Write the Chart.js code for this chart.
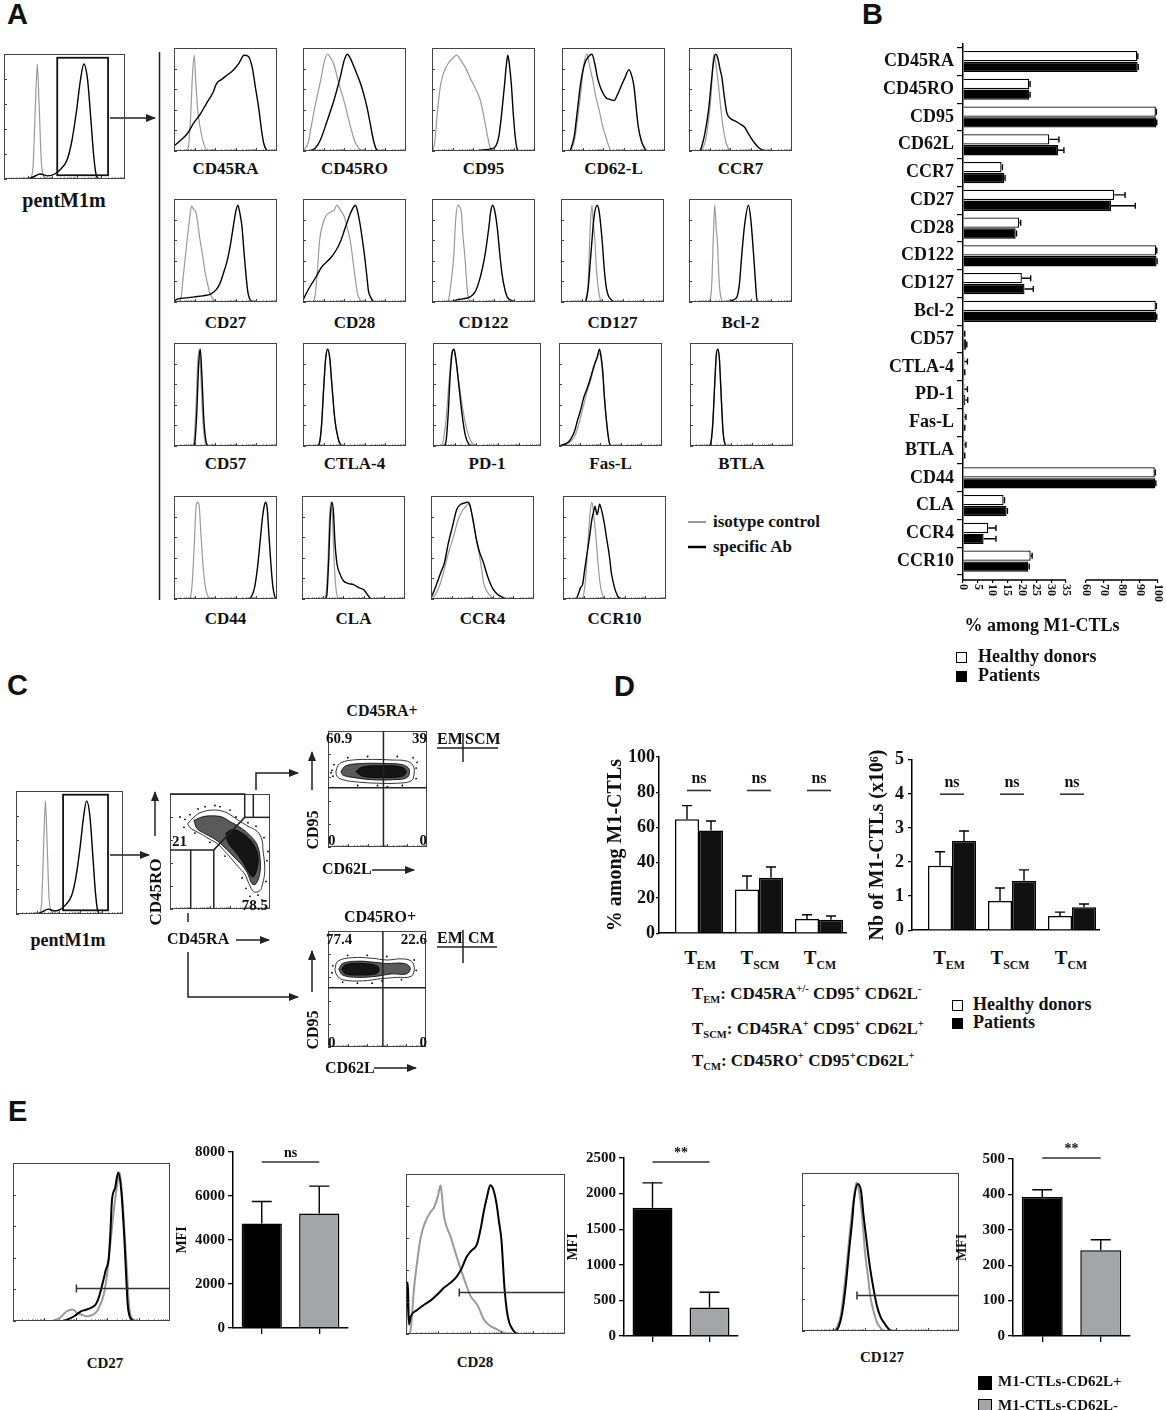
<!DOCTYPE html>
<html>
<head>
<meta charset="utf-8">
<script src="https://cdn.jsdelivr.net/npm/chart.js@4.4.1/dist/chart.umd.min.js"></script>
<style>
  html, body { margin: 0; padding: 0; background: #fff; }
  #fig { position: relative; width: 1166px; height: 1410px; overflow: hidden; background: #fff;
         font-family: "Liberation Serif", "Times New Roman", serif; font-weight: bold; color: #111; }
  #fig canvas { position: absolute; }
  #ov { position: absolute; left: 0; top: 0; }
  .t { position: absolute; white-space: nowrap; line-height: 1; }
  .letter { font-family: "Liberation Sans", Arial, sans-serif; }
  sub, sup { font-size: 0.62em; line-height: 0; }
  .sq { position: absolute; border: 1.5px solid #000; box-sizing: border-box; }
</style>
</head>
<body>
<div id="fig">
<svg id="ov" width="1166" height="1410">
  <defs>
    <marker id="ah" markerWidth="10" markerHeight="8" refX="9" refY="4" orient="auto" markerUnits="userSpaceOnUse">
      <path d="M0,0 L10,4 L0,8 z" fill="#222"/>
    </marker>
  </defs>
  <g stroke="#222" stroke-width="1.5" fill="none">
    <!-- A -->
    <line x1="110" y1="118" x2="155" y2="118" marker-end="url(#ah)"/>
    <line x1="159.5" y1="52" x2="159.5" y2="600"/>
    <line x1="688" y1="522" x2="706" y2="522" stroke="#9a9a9a" stroke-width="2"/>
    <line x1="688" y1="547" x2="706" y2="547" stroke="#000" stroke-width="2.5"/>
    <!-- C -->
    <line x1="110" y1="855" x2="149" y2="855" marker-end="url(#ah)"/>
    <line x1="155" y1="836" x2="155" y2="792" marker-end="url(#ah)"/>
    <line x1="236" y1="940" x2="269" y2="940" marker-end="url(#ah)"/>
    <polyline points="256,790 256,773 298,773" marker-end="url(#ah)"/>
    <line x1="188" y1="913" x2="188" y2="922"/>
    <polyline points="188,952 188,997 298,997" marker-end="url(#ah)"/>
    <line x1="312" y1="790" x2="312" y2="752" marker-end="url(#ah)"/>
    <line x1="312" y1="992" x2="312" y2="951" marker-end="url(#ah)"/>
    <line x1="372" y1="870" x2="414" y2="870" marker-end="url(#ah)"/>
    <line x1="374" y1="1068" x2="416" y2="1068" marker-end="url(#ah)"/>
    <line x1="437" y1="748" x2="498" y2="748"/>
    <line x1="463" y1="733" x2="463" y2="762"/>
    <line x1="437" y1="947" x2="497" y2="947"/>
    <line x1="463" y1="930" x2="463" y2="963"/>
  </g>
</svg>
</div>
<script>
const pentIso = [[18,0],[22,1],[24,10],[26,60],[27.5,92],[29,60],[31,12],[34,1],[38,0]];
const pentAb = [[20,0],[25,2],[30,4],[36,2.5],[42,4],[47,8],[52,15],[56,30],[60,55],[63,78],[66,92],[69,80],[72,45],[74,20],[76,4],[78,0]];

const cd45raIso = [[12,0],[14,4],[16,30],[18,75],[19.7,93],[21,70],[23,40],[25,25],[28,10],[31,2],[33,0]];
const cd45raAb = [[0,5],[6,10],[13,17],[19,27],[25,35],[32,47],[38,57],[41,65],[47,70],[52,74],[57,78],[63,85],[68,93],[72,92],[76,81],[79,62],[82.5,40],[85,20],[87,8],[90,1],[93,0]];
const cd45roIso = [[1,1],[5,8],[8,24],[12,45],[17,68],[21,88],[24,94],[27,90],[30,84],[35,65],[40,48],[46,24],[50,10],[54,3],[57,0]];
const cd45roAb = [[6,0],[12,3],[17,11],[23,28],[30,49],[36,71],[40,88],[43,94],[46,90],[49,83],[53,73],[56,65],[59,55],[62,43],[65,28],[67,17],[69,8],[71,2],[74,0]];
const cd95Iso = [[1,0],[3,12],[5,35],[8,62],[11,75],[15,84],[20,90],[24,93],[28,88],[33,80],[37,71],[42,61],[47,49],[51,30],[54,14],[56,5],[58,0]];
const cd95Ab = [[40,0],[50,1],[57,2],[62,5],[65,15],[68,40],[70.5,65],[72,82],[73.6,93],[75,85],[77,65],[79,35],[81,12],[83,1],[85,0]];
const cd62lIso = [[8,0],[12,10],[15,30],[18.5,59],[21,82],[24,94],[27,82],[30,68],[33,52],[36,40],[40,22],[42.5,14],[45,6],[47,1],[49,0]];
const cd62lAb = [[8,0],[12,15],[15,40],[18,65],[21.7,84],[26,92],[29,94],[32,84],[34.5,71],[38,60],[42.5,52],[47,50],[50.5,49],[54,55],[57,62],[61,71],[65,79],[68,72],[70,62],[72,42],[74,24],[77,10],[79,5],[82,0]];
const ccr7Iso = [[12,0],[16,10],[19,30],[21,49],[23,80],[24,94],[26,85],[28.5,65],[31,40],[33,24],[36,8],[38,3],[41,0]];
const ccr7Ab = [[11,0],[15,15],[19,40],[22,70],[24,88],[26,94],[28,90],[30,80],[32,71],[34,55],[36.5,38],[38,34],[41,31],[45,29],[50,26],[54,23],[57,18],[60,13],[63.5,8],[67,4],[70,1.6],[75,0]];

const cd27Iso = [[4,0],[7,5],[9,25],[12,53],[15,80],[17,93],[19,90],[21,88],[23,77],[25,62],[28,44],[30,30],[32.5,18],[35,8],[39,2],[42,0]];
const cd27Ab = [[0,1],[4,3],[12,4],[20,5],[28,6],[36,8],[41,12],[45,19],[48,28],[51.6,40],[55,57],[58,76],[60,88],[62,94],[64,86],[66,73],[68,48],[70.7,18],[72,8],[74,2],[77,0]];
const cd28Iso = [[10,0],[12,8],[14,30],[16,59],[19,75],[22,83],[26,87],[30,89],[33,94],[37,88],[40,83],[43,72],[46,59],[48.5,40],[51,21],[53,8],[55.5,2],[57,0]];
const cd28Ab = [[0,2],[3,8],[8,17],[13,25],[17.5,33],[22,38],[27,43],[32,50],[36.5,59],[41,72],[46,86],[49,92],[51,94],[53,88],[55.5,75],[58,58],[60,43],[62,25],[63.5,11],[66,4],[68,1],[71,0]];
const cd122Iso = [[14,0],[16,2],[18,15],[21,43],[23,80],[25,94],[27,92],[28.5,87],[30,65],[32,43],[34,15],[35,5],[38,0]];
const cd122Ab = [[20,0],[24,2],[30,3],[37,5],[42,10],[46,21],[49,33],[52,49],[55.5,75],[57,88],[59,94],[61,88],[63.5,71],[66,45],[68,27],[71,11],[73,5],[76,2],[81,0]];
const cd127Iso = [[24,0],[26,10],[27.5,50],[28.5,75],[30,94],[31.5,75],[33,59],[34.5,30],[36.5,11],[38,3],[40,0]];
const cd127Ab = [[24,0],[26.5,15],[28.5,40],[30,59],[32,82],[35,94],[37,88],[40,59],[42,32],[44,14],[46,6],[49,2],[52,0]];
const bcl2Iso = [[20,0],[22,15],[23.5,59],[25,94],[26.5,70],[27.6,59],[29,25],[30,11],[32,0]];
const bcl2Ab = [[38,0],[43,2],[46.6,5],[49,18],[51,43],[54,75],[57.8,94],[60,80],[62.5,49],[64.5,20],[66,2],[69,0]];

const cd57Iso = [[17,0],[19,2],[21,30],[23,80],[24.5,94],[26,70],[28,25],[30,5],[32,0]];
const cd57Ab = [[18,0],[20,2],[22,30],[24,80],[25.5,94],[27,70],[29,25],[31,5],[33,0]];
const ctla4Iso = [[14,0],[16,3],[18,20],[20,55],[22,85],[24,94],[26,85],[28,60],[31,25],[34,8],[36,2],[38,0]];
const ctla4Ab = [[14,0],[16,3],[18,20],[20,55],[22,85],[24,94],[26,85],[28,60],[31,25],[34,8],[36,2],[38,0]];
const pd1Iso = [[7,0],[9,3],[12,25],[15,65],[17,88],[19,94],[21,85],[24,62],[27,40],[30,22],[33,10],[36,3],[39,0]];
const pd1Ab = [[10,0],[12,4],[14,30],[16,70],[18,92],[19.5,94],[21,86],[24,58],[27,30],[30,10],[33,2],[35,0]];
const faslIso = [[3,0],[8,2],[12,5],[15,9],[18,17],[21,28],[24,40],[27,52],[30.6,63],[34,76],[37,86],[39.5,90],[41,87],[42.6,72],[44,50],[46,26],[48,8],[50,1],[52,0]];
const faslAb = [[0,0],[3,1],[8,3],[11.6,7],[15,14],[18,25],[21,35],[24,47],[27,55],[30.6,66],[34,78],[37,86],[39.4,94],[41,85],[42.6,70],[44,48],[46,25],[48,8],[49.5,1],[51,0]];
const btlaIso = [[18,0],[20,2],[22,20],[24,60],[25.5,88],[27,94],[28.5,85],[30,55],[32,15],[34,2],[36,0]];
const btlaAb = [[18,0],[20,2],[22,20],[24,60],[25.5,88],[27,94],[28.5,85],[30,55],[32,15],[34,2],[36,0]];

const cd44Iso = [[14,0],[16,2],[18,20],[20,60],[21.5,90],[23,94],[24.5,90],[26,65],[28,35],[30,15],[32,5],[35,0]];
const cd44Ab = [[72,0],[75,2],[78,10],[81,30],[84,60],[86,80],[88,92],[89,94],[90.5,88],[92,65],[94,35],[96,12],[98,2],[99,0]];
const claIso = [[21,0],[23,3],[25,30],[26.5,75],[28,94],[29.5,80],[31,40],[33,10],[35,1],[37,0]];
const claAb = [[22,0],[24,3],[26,40],[27.5,80],[29,94],[30.5,85],[32,55],[34,34],[37,24],[40,18],[45,15],[50,14],[55,11],[60,9],[63,5],[66,1],[68,0]];
const ccr4Iso = [[1,0],[4,4],[8,12],[13,29],[17,45],[22,61],[26,76],[30,85],[33,89],[36,92],[38,90],[41,74],[44,58],[46,48],[49,30],[51,16],[54,8],[56,5],[60,1],[63,0]];
const ccr4Ab = [[0,1],[3,8],[6,16],[10,27],[13,35],[17,55],[21,71],[25,87],[29,92],[32,93],[35,94],[37,93],[40,81],[42,70],[44,58],[47,46],[51,35],[54,25],[56,19],[60,10],[64,5],[67,3],[73,0]];
const ccr10Iso = [[18,0],[20,4],[22,20],[24,50],[26,80],[28,94],[30,80],[32,60],[34,35],[36,15],[38,5],[40,1],[42,0]];
const ccr10Ab = [[13,0],[15,5],[17,11],[19,14],[21,28],[23,42],[26,62],[28,77],[30,86],[31,90],[33,82],[34,85],[35.5,92],[37,88],[40,74],[42.5,58],[45,42],[47,25],[50,11],[53,3],[55,1],[58,0]];

const aMarkers = ['CD45RA','CD45RO','CD95','CD62-L','CCR7','CD27','CD28','CD122','CD127','Bcl-2',
                  'CD57','CTLA-4','PD-1','Fas-L','BTLA','CD44','CLA','CCR4','CCR10'];
const aIso = [cd45raIso, cd45roIso, cd95Iso, cd62lIso, ccr7Iso, cd27Iso, cd28Iso, cd122Iso, cd127Iso, bcl2Iso,
              cd57Iso, ctla4Iso, pd1Iso, faslIso, btlaIso, cd44Iso, claIso, ccr4Iso, ccr10Iso];
const aAb = [cd45raAb, cd45roAb, cd95Ab, cd62lAb, ccr7Ab, cd27Ab, cd28Ab, cd122Ab, cd127Ab, bcl2Ab,
             cd57Ab, ctla4Ab, pd1Ab, faslAb, btlaAb, cd44Ab, claAb, ccr4Ab, ccr10Ab];
const pentGate = [44, 86, 3, 97];

// ---------- B ----------
const bCats = ['CD45RA','CD45RO','CD95','CD62L','CCR7','CD27','CD28','CD122','CD127','Bcl-2',
               'CD57','CTLA-4','PD-1','Fas-L','BTLA','CD44','CLA','CCR4','CCR10'];
const bHealthy = [88.5, 22.5, 98.8, 29.3, 13.1, 75.7, 19.1, 99, 20, 98.8, 0.3, 0.5, 0.5, 0.5, 0.5, 98.2, 13.8, 8.6, 23];
const bHealthyErr = [0.3, 0.3, 0.3, 3.3, 0.3, 6, 0.5, 0.3, 3, 0.3, 0.3, 1, 1, 0.5, 0.5, 0.3, 0.3, 2.6, 0.5];
const bPatients = [88.7, 22.5, 99, 32.3, 14, 73.9, 17.9, 99.2, 20.9, 99, 1, 0.3, 0.8, 0.3, 0.3, 98.5, 14.8, 7, 22.2];
const bPatientsErr = [0.3, 0.3, 0.3, 2, 0.3, 13.5, 0.3, 0.3, 3, 0.3, 0.3, 0.3, 0.8, 0.3, 0.3, 0.3, 0.3, 4.2, 0.3];
const bTicks = [0, 5, 10, 15, 20, 25, 30, 35, 60, 70, 80, 90, 100];

// ---------- C ----------
const cOuter = [[17.6,74],[24,80],[31,84],[42,86],[53,85],[62,81],[68.5,77],[78,72],[87,67.6],[92,60],[93,51],[94.5,40],[94.5,30],[92,20],[90,16],[84,15],[79,22],[75,30],[68,37],[62,43],[55,50],[47,57],[39,61],[31.5,65],[21,70],[17.6,74]];
const cMid = [[24,77],[32,80],[41,81],[52,80],[60,76],[70,71],[80,64],[87,56],[90,45],[90,32],[86,22],[82,22],[77,32],[70,40],[62,47],[54,54],[46,60],[36,65],[27,70],[24,77]];
const cCore = [[56,66],[62,69],[70,67],[78,62],[85,54],[88,45],[87,35],[83,28],[78,33],[72,42],[65,50],[58,58],[56,66]];
const cDots = [[15,78],[20,82],[28,87],[35,89],[60,86],[78,75],[94,62],[97,42],[96,24],[88,12],[80,11],[72,27],[55,46],[40,58],[25,66],[14,71],[50,89],[86,72],[98,50],[76,18],[10,80],[45,90],[66,80],[92,8]];
const raOuter = [[8,65],[10,70],[14,73],[25,75],[45,75.5],[65,75],[80,74],[86,70],[87,63],[84,57],[70,55],[50,55],[30,56],[15,58],[9,61],[8,65]];
const raMid = [[13,65],[18,70],[35,72],[55,72],[75,71],[82,67],[80,60],[65,58],[45,58],[25,60],[15,62],[13,65]];
const raCore = [[28,65],[35,69],[55,70],[74,69],[79,65],[75,61],[55,60],[35,61],[28,65]];
const raDots = [[4,66],[6,71],[5,61],[89,68],[90,73],[89,59],[60,52],[40,78],[20,77],[70,78],[86,77],[50,53],[3,64],[30,53],[75,53]];
const roOuter = [[7,67],[10,74],[25,77],[45,76.5],[60,75],[75,76],[85,74],[88,68],[85,61],[70,60],[55,59],[35,57],[15,58],[9,62],[7,67]];
const roMid = [[11,67],[15,72],[30,74],[48,73],[60,72],[78,72],[84,68],[80,63],[65,63],[50,61],[30,60],[15,62],[11,67]];
const roCore = [[14,67],[18,71],[35,72],[50,70],[52,66],[48,63],[30,62],[18,63],[14,67]];
const roDots = [[5,70],[4,64],[20,79],[40,79],[60,78],[88,75],[90,66],[30,55],[15,56],[55,57],[75,58],[45,55]];
const quadCut = [56, 51];

// ---------- D ----------
const dCats = ['EM', 'SCM', 'CM'];
const dPctHealthy = [64.7, 24.8, 8.1];
const dPctHealthyErr = [7.7, 7.7, 2.4];
const dPctPatients = [58.3, 31.4, 7.7];
const dPctPatientsErr = [5.4, 6.2, 2.1];
const dNbHealthy = [1.89, 0.86, 0.42];
const dNbHealthyErr = [0.41, 0.38, 0.11];
const dNbPatients = [2.62, 1.45, 0.675];
const dNbPatientsErr = [0.29, 0.32, 0.095];
const dSig = ['ns', 'ns', 'ns'];

// ---------- E ----------
const eGroups = ['M1-CTLs-CD62L+', 'M1-CTLs-CD62L-'];
const eCd27Mfi = [4750, 5200];
const eCd27Err = [1000, 1250];
const eCd28Mfi = [1800, 400];
const eCd28Err = [350, 215];
const eCd127Mfi = [393, 242];
const eCd127Err = [20, 30];
const eCd27Plus = [[32,0],[36,1.5],[39,3],[43,6],[46,7],[49,8],[51,9],[53,11],[55,16],[57.6,26],[59,32],[61,40],[62,55],[63,76],[65,84],[67,94],[69,82],[71,51],[72,30],[73,11],[74,4],[75.5,1],[77,0]];
const eCd27Minus = [[25,0],[30,2],[34,6],[38,7.3],[41,5],[44,4],[47,3],[51,4],[54,7],[57.6,16],[60,30],[62,49],[64,68],[66,84],[68,94],[70,72],[72.3,36],[74,9],[76.5,1],[79,0]];
const eCd28Plus = [[0,0],[0.6,32],[1.2,32],[1.8,6],[3,11],[7,15],[11,18],[15.6,21],[20,25],[24,29],[28,32],[32,36],[35,41],[38,48],[41,52],[44.6,56],[47,66],[49,77],[51,86],[53,93],[55,90],[57,81],[58.5,70],[60,59],[62,28],[63.5,14],[65,7],[67,3],[68.5,1],[71.6,0]];
const eCd28Minus = [[2,0],[3,3],[4,15],[5,28],[7,45],[9,59],[11,67],[13.5,73],[16,77],[17.6,79],[20,86],[21.8,93],[23,82],[24,73],[28,61],[32,48],[36,36],[40.5,24],[45,18],[49,9],[53,5],[57,3],[61,1],[67,0]];
const eCd127Plus = [[21.5,0],[23.5,3],[25.7,12],[28,30],[30,51],[32,70],[33,82],[35.6,93],[37.7,88],[39,75],[40.4,63],[42,50],[43.5,39],[45.5,27],[47.7,16],[50,9],[52,5.6],[55,1.5],[57,0]];
const eCd127Minus = [[20.5,0],[22.5,3],[24.7,10],[27,28],[29,47],[31,68],[32.5,80],[34.7,94],[36,90],[37,84],[39,65],[40,51],[42,35],[43.5,22],[46,11],[47.7,5.6],[50,2],[52,0]];
const eGates = [[40.4, 21], [33.5, 26], [35, 23]];

// ================= drawing =================
const fig = document.getElementById('fig');
const SERIF = '"Liberation Serif", "Times New Roman", serif';
Chart.defaults.font.family = SERIF;
Chart.defaults.font.weight = 'bold';
Chart.defaults.color = '#111';
Chart.defaults.animation = false;
Chart.defaults.responsive = false;
Chart.defaults.devicePixelRatio = 1;
Chart.defaults.events = [];
Chart.defaults.plugins.legend.display = false;
Chart.defaults.plugins.tooltip.enabled = false;

function addCanvas(left, top, w, h) {
  const cv = document.createElement('canvas');
  cv.width = w; cv.height = h;
  cv.style.left = left + 'px'; cv.style.top = top + 'px';
  cv.style.width = w + 'px'; cv.style.height = h + 'px';
  fig.appendChild(cv);
  return cv;
}

function txt(html, x, y, size, align, cls) {
  const d = document.createElement('div');
  d.className = 't' + (cls ? ' ' + cls : '');
  d.innerHTML = html;
  d.style.fontSize = size + 'px';
  d.style.left = x + 'px';
  d.style.top = (y - size / 2) + 'px';
  if (align === 'center') d.style.transform = 'translateX(-50%)';
  if (align === 'right') d.style.transform = 'translateX(-100%)';
  if (align === 'rot') { d.style.top = y + 'px'; d.style.transform = 'translate(-50%,-50%) rotate(-90deg)'; }
  fig.appendChild(d);
}

function square(x, y, size, color) {
  const d = document.createElement('div');
  d.className = 'sq';
  d.style.cssText += `left:${x}px;top:${y - size / 2}px;width:${size}px;height:${size}px;background:${color}`;
  fig.appendChild(d);
}

// frame + log ticks + optional gate for a flow plot
function boxFrame(gate) {
  return {
    id: 'boxFrame',
    afterDraw(chart) {
      const { ctx, chartArea: a, scales: { x, y } } = chart;
      ctx.save();
      ctx.strokeStyle = '#444';
      ctx.lineWidth = 1;
      ctx.strokeRect(a.left + 0.5, a.top + 0.5, a.width - 1, a.height - 1);
      ctx.beginPath();
      for (let d = 0; d < 5; d++) {
        for (let k = 1; k < 10; k++) {
          const px = Math.round(x.getPixelForValue(d * 20 + Math.log10(k) * 20)) + 0.5;
          ctx.moveTo(px, a.bottom);
          ctx.lineTo(px, a.bottom - (k === 1 ? 3 : 1.5));
        }
      }
      for (let v = 0; v <= 100; v += 20) {
        const py = Math.round(y.getPixelForValue(v)) + 0.5;
        ctx.moveTo(a.left, py); ctx.lineTo(a.left + 3, py);
      }
      ctx.stroke();
      if (gate && gate.rect) {
        const [x0, x1, y0, y1] = gate.rect;
        ctx.strokeStyle = '#111'; ctx.lineWidth = 1.8;
        const l = x.getPixelForValue(x0), r = x.getPixelForValue(x1);
        const t = y.getPixelForValue(y1), b = y.getPixelForValue(y0);
        ctx.strokeRect(l, t, r - l, b - t);
      }
      if (gate && gate.bar) {
        const [x0, yv] = gate.bar;
        const l = x.getPixelForValue(x0), py = Math.round(y.getPixelForValue(yv)) + 0.5;
        ctx.strokeStyle = '#333'; ctx.lineWidth = 1.5;
        ctx.beginPath();
        ctx.moveTo(l, py); ctx.lineTo(a.right, py);
        ctx.moveTo(l, py - 4); ctx.lineTo(l, py + 4);
        ctx.stroke();
      }
      if (gate && gate.lines) {
        ctx.strokeStyle = '#222'; ctx.lineWidth = 1.5;
        gate.lines.forEach(pl => {
          ctx.beginPath();
          pl.forEach((p, i) => {
            const px = x.getPixelForValue(p[0]), py = y.getPixelForValue(p[1]);
            if (i === 0) ctx.moveTo(px, py); else ctx.lineTo(px, py);
          });
          ctx.stroke();
        });
      }
      ctx.restore();
    }
  };
}

function flowHist(left, top, w, h, ab, iso, gate, widths) {
  const wd = widths || [1.4, 1.2];
  new Chart(addCanvas(left, top, w, h), {
    type: 'line',
    data: {
      datasets: [
        { data: ab, borderColor: '#000', borderWidth: wd[0] },
        { data: iso, borderColor: '#9a9a9a', borderWidth: wd[1] }
      ]
    },
    options: {
      layout: { padding: 1 },
      elements: { point: { radius: 0 }, line: { cubicInterpolationMode: 'monotone', fill: false } },
      scales: {
        x: { type: 'linear', min: 0, max: 100, display: false },
        y: { min: 0, max: 100, display: false }
      }
    },
    plugins: [boxFrame(gate)]
  });
}

function contourPlot(left, top, w, h, core, mid, outer, dots, gate) {
  const shades = ['#151515', '#5a5a5a', '#fff'];
  const sets = [core, mid, outer].map((r, i) => ({
    data: r, borderColor: '#000', borderWidth: 0.8, backgroundColor: shades[i], fill: 'shape', tension: 0.4, pointRadius: 0
  }));
  sets.push({ data: dots, showLine: false, pointRadius: 0.9, pointBackgroundColor: '#000', pointBorderWidth: 0 });
  new Chart(addCanvas(left, top, w, h), {
    type: 'line',
    data: { datasets: sets },
    options: {
      layout: { padding: 1 },
      scales: {
        x: { type: 'linear', min: 0, max: 100, display: false },
        y: { min: 0, max: 100, display: false }
      }
    },
    plugins: [boxFrame(gate)]
  });
}

function errorBars(cap) {
  return {
    id: 'errorBars',
    afterDatasetsDraw(chart) {
      const ctx = chart.ctx;
      const horiz = chart.options.indexAxis === 'y';
      const vs = horiz ? chart.scales.x : chart.scales.y;
      ctx.save();
      ctx.strokeStyle = '#000';
      ctx.lineWidth = 1.4;
      chart.data.datasets.forEach((ds, di) => {
        if (!ds.errTo) return;
        chart.getDatasetMeta(di).data.forEach((bar, i) => {
          const e = vs.getPixelForValue(ds.errTo[i]);
          ctx.beginPath();
          if (horiz) {
            ctx.moveTo(bar.x, bar.y); ctx.lineTo(e, bar.y);
            ctx.moveTo(e, bar.y - cap / 2); ctx.lineTo(e, bar.y + cap / 2);
          } else {
            ctx.moveTo(bar.x, bar.y); ctx.lineTo(bar.x, e);
            ctx.moveTo(bar.x - cap / 2, e); ctx.lineTo(bar.x + cap / 2, e);
          }
          ctx.stroke();
        });
      });
      ctx.restore();
    }
  };
}

function sigMarks(xs, half, yv, labels, size, lift) {
  return {
    id: 'sigMarks',
    afterDraw(chart) {
      const { ctx, scales: { x, y } } = chart;
      ctx.save();
      ctx.strokeStyle = '#333'; ctx.lineWidth = 1.6;
      ctx.fillStyle = '#111';
      ctx.font = `bold ${size}px ${SERIF}`;
      ctx.textAlign = 'center';
      ctx.textBaseline = 'alphabetic';
      xs.forEach((xv, i) => {
        const a = x.getPixelForValue(xv - half), b = x.getPixelForValue(xv + half);
        const py = y.getPixelForValue(yv);
        ctx.beginPath(); ctx.moveTo(a, py); ctx.lineTo(b, py); ctx.stroke();
        ctx.fillText(labels[i], (a + b) / 2, py - lift);
      });
      ctx.restore();
    }
  };
}

// ---------- panel letters ----------
txt('A', 7, 14.5, 29, 'left', 'letter');
txt('B', 862, 14.5, 29, 'left', 'letter');
txt('C', 7, 685, 29, 'left', 'letter');
txt('D', 614, 686, 29, 'left', 'letter');
txt('E', 8, 1111, 29, 'left', 'letter');

// ---------- A ----------
flowHist(3, 53, 123, 127, pentAb, pentIso, { rect: pentGate });
txt('pentM1m', 64, 200, 20, 'center');
const aLefts = [[173, 302, 431, 561, 688], [173, 302, 431, 560, 688], [173, 302, 432, 558, 689], [173, 301, 430, 562]];
const aTops = [47, 198, 342, 495];
const aLabelY = [168, 322, 463, 618];
let k = 0;
aLefts.forEach((row, r) => {
  row.forEach(left => {
    const w = (r === 2 && left === 432) ? 110 : 105;
    flowHist(left, aTops[r], w, 105, aAb[k], aIso[k]);
    txt(aMarkers[k], left + w / 2, aLabelY[r], 17, 'center');
    k++;
  });
});
txt('isotype control', 713, 521, 17, 'left');
txt('specific Ab', 713, 546, 17, 'left');

// ---------- B ----------
const B_GAP = 6.8, B_K = 0.612;
const bx = v => (v <= 35 ? v : 35 + B_GAP + (v - 60) * B_K);
const bAxis = {
  id: 'bAxis',
  afterDraw(chart) {
    const { ctx, chartArea: a, scales: { x } } = chart;
    ctx.save();
    ctx.strokeStyle = '#000'; ctx.lineWidth = 1.5;
    ctx.beginPath();
    ctx.moveTo(x.getPixelForValue(bx(0)), a.bottom); ctx.lineTo(x.getPixelForValue(bx(35)), a.bottom);
    ctx.moveTo(x.getPixelForValue(bx(60)), a.bottom); ctx.lineTo(x.getPixelForValue(bx(100)), a.bottom);
    ctx.stroke();
    ctx.fillStyle = '#111';
    ctx.font = `bold 12px ${SERIF}`;
    ctx.textBaseline = 'middle';
    ctx.textAlign = 'left';
    bTicks.forEach(v => {
      ctx.save();
      ctx.translate(x.getPixelForValue(bx(v)), a.bottom + 4);
      ctx.rotate(Math.PI / 2);
      ctx.fillText(String(v), 0, 0);
      ctx.restore();
    });
    ctx.restore();
  }
};
new Chart(addCanvas(840, 30, 326, 620), {
  type: 'bar',
  data: {
    datasets: [
      { label: 'Healthy donors', data: bHealthy.map((v, i) => ({ x: bx(v), y: i })),
        backgroundColor: '#fff', borderColor: '#000', borderWidth: 1.3,
        errTo: bHealthy.map((v, i) => bx(v + bHealthyErr[i])) },
      { label: 'Patients', data: bPatients.map((v, i) => ({ x: bx(v), y: i })),
        backgroundColor: '#000', borderColor: '#000', borderWidth: 1.3,
        errTo: bPatients.map((v, i) => bx(v + bPatientsErr[i])) }
    ]
  },
  options: {
    indexAxis: 'y',
    layout: { padding: { top: 7, right: 8, left: 0, bottom: 0 } },
    datasets: { bar: { categoryPercentage: 0.78, barPercentage: 0.95 } },
    scales: {
      x: {
        type: 'linear', min: 0, max: bx(100), offset: false,
        afterBuildTicks: s => { s.ticks = bTicks.map(v => ({ value: bx(v) })); },
        afterFit: s => { s.height = 70; },
        ticks: { display: false },
        grid: { drawOnChartArea: false, tickLength: 3, color: '#000', lineWidth: 1.2 },
        border: { display: false }
      },
      y: {
        type: 'linear', reverse: true, min: -0.64, max: 18.68, offset: false,
        afterBuildTicks: s => { s.ticks = bCats.map((c, i) => ({ value: i })); },
        afterFit: s => { s.width = 123; },
        ticks: { callback: v => bCats[v], font: { size: 18, weight: 'bold' }, color: '#111', padding: 3 },
        grid: { drawOnChartArea: false, tickLength: 6, color: '#000', lineWidth: 1.2 },
        border: { color: '#000', width: 1.5 }
      }
    }
  },
  plugins: [errorBars(6), bAxis]
});
txt('% among M1-CTLs', 1042, 625, 18, 'center');
square(956, 657, 11, '#fff');
txt('Healthy donors', 978, 656, 18, 'left');
square(956, 676, 11, '#000');
txt('Patients', 978, 675, 18, 'left');

// ---------- C ----------
flowHist(15, 790, 109, 125, pentAb, pentIso, { rect: pentGate });
txt('pentM1m', 68, 940, 18, 'center');
contourPlot(166, 790, 108, 123, cCore, cMid, cOuter, cDots, {
  lines: [
    [[0, 100], [74.7, 100], [74.7, 79.7], [43.8, 51.4], [0, 51.4]],
    [[74.7, 79.7], [100, 79.7]],
    [[83.3, 79.7], [83.3, 100]],
    [[20.7, 51.4], [20.7, 0]],
    [[43.8, 51.4], [43.8, 0]]
  ]
});
const quadLines = [[[quadCut[0], 0], [quadCut[0], 100]], [[0, quadCut[1]], [100, quadCut[1]]]];
contourPlot(324, 727, 107, 124, raCore, raMid, raOuter, raDots, { lines: quadLines });
contourPlot(324, 927, 106, 124, roCore, roMid, roOuter, roDots, { lines: quadLines });
txt('21', 172, 841, 15, 'left');
txt('78.5', 268, 905, 15, 'right');
txt('CD45RO', 155, 892, 17, 'rot');
txt('CD45RA', 167, 939, 16, 'left');
txt('CD45RA+', 382, 711, 16, 'center');
txt('60.9', 326, 738, 15, 'left');
txt('39', 427, 738, 15, 'right');
txt('0', 328, 840, 15, 'left');
txt('0', 427, 840, 15, 'right');
txt('CD95', 313, 830, 16, 'rot');
txt('CD62L', 322, 869, 16, 'left');
txt('EM', 437, 739, 16, 'left');
txt('SCM', 465, 739, 16, 'left');
txt('CD45RO+', 380, 917, 16, 'center');
txt('77.4', 326, 939, 15, 'left');
txt('22.6', 427, 939, 15, 'right');
txt('0', 328, 1042, 15, 'left');
txt('0', 427, 1042, 15, 'right');
txt('CD95', 313, 1030, 16, 'rot');
txt('CD62L', 325, 1068, 16, 'left');
txt('EM', 437, 938, 16, 'left');
txt('CM', 468, 938, 16, 'left');

// ---------- D ----------
function dChart(left, yw, padR, healthy, hErr, patients, pErr, yMax, title, sigY, tickPad, tickLen) {
  new Chart(addCanvas(left, 745, yw + 187 + padR, 200), {
    type: 'bar',
    data: {
      datasets: [
        { label: 'Healthy donors', data: healthy.map((v, i) => ({ x: i, y: v })),
          backgroundColor: '#fff', borderColor: '#000', borderWidth: 1.5,
          errTo: healthy.map((v, i) => v + hErr[i]) },
        { label: 'Patients', data: patients.map((v, i) => ({ x: i, y: v })),
          backgroundColor: '#111', borderColor: '#000', borderWidth: 1.5,
          errTo: patients.map((v, i) => v + pErr[i]) }
      ]
    },
    options: {
      layout: { padding: { top: 12, right: padR, left: 0, bottom: 0 } },
      datasets: { bar: { categoryPercentage: 0.8, barPercentage: 1 } },
      scales: {
        x: {
          type: 'linear', min: -0.667, max: 2.45, offset: false,
          afterFit: s => { s.height = 10; },
          ticks: { display: false }, grid: { display: false },
          border: { color: '#000', width: 1.5 }
        },
        y: {
          min: 0, max: yMax,
          afterFit: s => { s.width = yw; },
          ticks: { stepSize: yMax / 5, font: { size: 18, weight: 'bold' }, color: '#111', padding: tickPad },
          grid: { drawOnChartArea: false, tickLength: tickLen, color: '#000', lineWidth: 1.3 },
          border: { color: '#000', width: 1.5 },
          title: { display: true, text: title, font: { size: 20, weight: 'bold' }, color: '#111', padding: { top: 0, bottom: 0 } }
        }
      }
    },
    plugins: [errorBars(10), sigMarks([0, 1, 2], 0.2, sigY, dSig, 16, 7)]
  });
}
dChart(604, 55, 8, dPctHealthy, dPctHealthyErr, dPctPatients, dPctPatientsErr, 100, '% among M1-CTLs', 81, 1, 3);
dChart(866, 46, 8, dNbHealthy, dNbHealthyErr, dNbPatients, dNbPatientsErr, 5, 'Nb of M1-CTLs (x10\u2076)', 3.99, 4, 4);
[699, 759, 819].forEach((cx, i) => txt('T<sub>' + dCats[i] + '</sub>', cx + 1, 957, 19, 'center'));
[948, 1009, 1070].forEach((cx, i) => txt('T<sub>' + dCats[i] + '</sub>', cx + 1, 957, 19, 'center'));
txt('T<sub>EM</sub>: CD45RA<sup>+/-</sup> CD95<sup>+</sup> CD62L<sup>-</sup>', 692, 993, 17, 'left');
txt('T<sub>SCM</sub>: CD45RA<sup>+</sup> CD95<sup>+</sup> CD62L<sup>+</sup>', 692, 1028, 17, 'left');
txt('T<sub>CM</sub>: CD45RO<sup>+</sup> CD95<sup>+</sup>CD62L<sup>+</sup>', 692, 1060, 17, 'left');
square(952, 1005, 11, '#fff');
txt('Healthy donors', 973, 1004, 18, 'left');
square(952, 1023, 11, '#000');
txt('Patients', 973, 1022, 18, 'left');

// ---------- E ----------
function eChart(left, top, yw, w, h, vals, errs, yMax, steps, sigY, sigLabel) {
  new Chart(addCanvas(left, top - 12, yw + w + 7, h + 36), {
    type: 'bar',
    data: {
      labels: eGroups,
      datasets: [{ data: vals, backgroundColor: ['#000', '#a3a5a8'], borderColor: '#000', borderWidth: 1.5,
                   errTo: vals.map((v, i) => v + errs[i]) }]
    },
    options: {
      layout: { padding: { top: 24, right: 7, left: 0, bottom: 0 } },
      datasets: { bar: { categoryPercentage: 1, barPercentage: 0.7 } },
      scales: {
        x: {
          afterFit: s => { s.height = 12; },
          ticks: { display: false },
          grid: { offset: false, drawOnChartArea: false, tickLength: 6, color: '#000', lineWidth: 1.3 },
          border: { color: '#000', width: 1.5 }
        },
        y: {
          min: 0, max: yMax,
          afterFit: s => { s.width = yw; },
          ticks: { stepSize: yMax / steps, callback: v => String(v), font: { size: 15, weight: 'bold' }, color: '#111', padding: 3 },
          grid: { drawOnChartArea: false, tickLength: 5, color: '#000', lineWidth: 1.3 },
          border: { color: '#000', width: 1.5 },
          title: { display: true, text: 'MFI', font: { size: 14, weight: 'bold' }, color: '#111', padding: { top: 0, bottom: 0 } }
        }
      }
    },
    plugins: [errorBars(20), sigMarks([0.5], 0.5, sigY, [sigLabel], 14, 5)]
  });
}
flowHist(12, 1162, 159, 160, eCd27Plus, eCd27Minus, { bar: eGates[0] }, [2, 2]);
eChart(174, 1140, 59, 115, 176, eCd27Mfi, eCd27Err, 8000, 4, 7545, 'ns');
txt('CD27', 105, 1363, 15, 'center');
flowHist(405, 1173, 161, 162, eCd28Plus, eCd28Minus, { bar: eGates[1] }, [2, 2]);
eChart(565, 1146, 59, 114, 178, eCd28Mfi, eCd28Err, 2500, 5, 2444, '**');
txt('CD28', 475, 1362, 15, 'center');
flowHist(801, 1172, 159, 160, eCd127Plus, eCd127Minus, { bar: eGates[2] }, [2, 2]);
eChart(954, 1147, 59, 117, 177, eCd127Mfi, eCd127Err, 500, 5, 503, '**');
txt('CD127', 882, 1357, 15, 'center');
square(978, 1383, 14, '#000');
txt('M1-CTLs-CD62L+', 998, 1381, 15, 'left');
square(978, 1406, 14, '#a3a5a8');
txt('M1-CTLs-CD62L-', 998, 1405, 15, 'left');
</script>
</body>
</html>
